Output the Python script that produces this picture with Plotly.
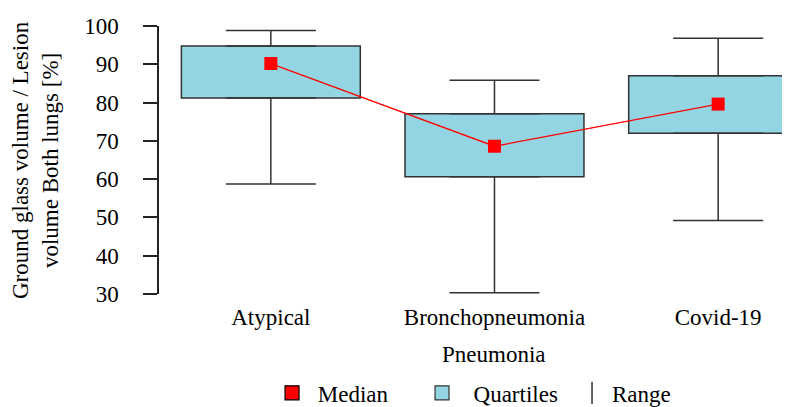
import plotly.graph_objects as go

categories = ["Atypical", "Bronchopneumonia", "Covid-19"]
range_min = [58.7, 30.3, 49.2]
quartile1 = [81.2, 60.6, 72.0]
median = [90.2, 68.6, 79.6]
quartile3 = [94.8, 77.1, 87.0]
range_max = [98.8, 85.8, 96.8]
yticks = [30, 40, 50, 60, 70, 80, 90, 100]

FONT = "Liberation Serif, Times New Roman, Times, serif"
FS = 23
EDGE = "#333333"
FILL = "#94d5e4"

fig = go.Figure()

# Quartile boxes
fig.add_trace(go.Bar(
    x=categories,
    base=quartile1,
    y=[q3 - q1 for q1, q3 in zip(quartile1, quartile3)],
    width=0.8,
    marker=dict(color=FILL, line=dict(color=EDGE, width=1.5)),
    name="Quartiles",
    showlegend=False,
    hoverinfo="skip",
))

# Upper whiskers
fig.add_trace(go.Scatter(
    x=categories, y=quartile3, mode="markers",
    marker=dict(color="rgba(0,0,0,0)", size=1),
    error_y=dict(type="data", symmetric=False,
                 array=[mx - q3 for mx, q3 in zip(range_max, quartile3)],
                 arrayminus=[0, 0, 0], width=45, thickness=1.5, color=EDGE),
    showlegend=False, hoverinfo="skip",
))
# Lower whiskers
fig.add_trace(go.Scatter(
    x=categories, y=quartile1, mode="markers",
    marker=dict(color="rgba(0,0,0,0)", size=1),
    error_y=dict(type="data", symmetric=False,
                 array=[0, 0, 0],
                 arrayminus=[q1 - mn for mn, q1 in zip(range_min, quartile1)],
                 width=45, thickness=1.5, color=EDGE),
    showlegend=False, hoverinfo="skip",
))

# Median line + markers
fig.add_trace(go.Scatter(
    x=categories, y=median, mode="lines+markers",
    line=dict(color="#ff0000", width=1.3),
    marker=dict(symbol="square", size=13, color="#ff0000"),
    showlegend=False, name="Median",
))

# Legend entries
fig.add_trace(go.Scatter(
    x=[None], y=[None], mode="markers", name="&nbsp;Median",
    marker=dict(symbol="square", size=14, color="#ff0000",
                line=dict(color="#000000", width=1.2)),
))
fig.add_trace(go.Scatter(
    x=[None], y=[None], mode="markers", name="&nbsp;&nbsp;Quartiles",
    marker=dict(symbol="square", size=14, color=FILL,
                line=dict(color=EDGE, width=1.2)),
))
fig.add_trace(go.Scatter(
    x=[None], y=[None], mode="markers", name="Range",
    marker=dict(symbol="line-ns-open", size=20, color=EDGE,
                line=dict(color=EDGE, width=1.5)),
))

fig.update_layout(
    width=790, height=407,
    margin=dict(l=151, r=0, t=18, b=115),
    paper_bgcolor="white", plot_bgcolor="white",
    font=dict(family=FONT, size=FS, color="#000000"),
    xaxis=dict(
        type="category", range=[-0.5, 2.357],
        showline=False, showgrid=False, zeroline=False,
        ticks="outside", ticklen=2, tickcolor="rgba(0,0,0,0)",
        tickfont=dict(family=FONT, size=FS, color="#000000"),
    ),
    yaxis=dict(
        range=[30, 100], tickvals=yticks,
        showline=True, linecolor="#222222", linewidth=1.5,
        ticks="outside", ticklen=14, tickwidth=1.5, tickcolor="#222222",
        ticklabelstandoff=20,
        showgrid=False, zeroline=False,
        tickfont=dict(family=FONT, size=FS, color="#000000"),
    ),
    legend=dict(
        orientation="h", x=0.529, xanchor="center",
        y=-0.369, yanchor="middle",
        font=dict(family=FONT, size=FS, color="#000000"),
        bgcolor="rgba(0,0,0,0)",
        entrywidth=105,
    ),
    annotations=[
        dict(text="Pneumonia", xref="paper", yref="paper",
             x=0.525, y=-0.225, xanchor="center", yanchor="middle",
             showarrow=False, font=dict(family=FONT, size=FS, color="#000000")),
        dict(text="Ground glass volume / Lesion<br>volume Both lungs [%]",
             xref="paper", yref="paper", x=-0.194, y=0.5,
             xanchor="center", yanchor="middle", textangle=-90,
             showarrow=False, font=dict(family=FONT, size=FS, color="#000000")),
    ],
    showlegend=True,
)

fig.write_html("out.html")
